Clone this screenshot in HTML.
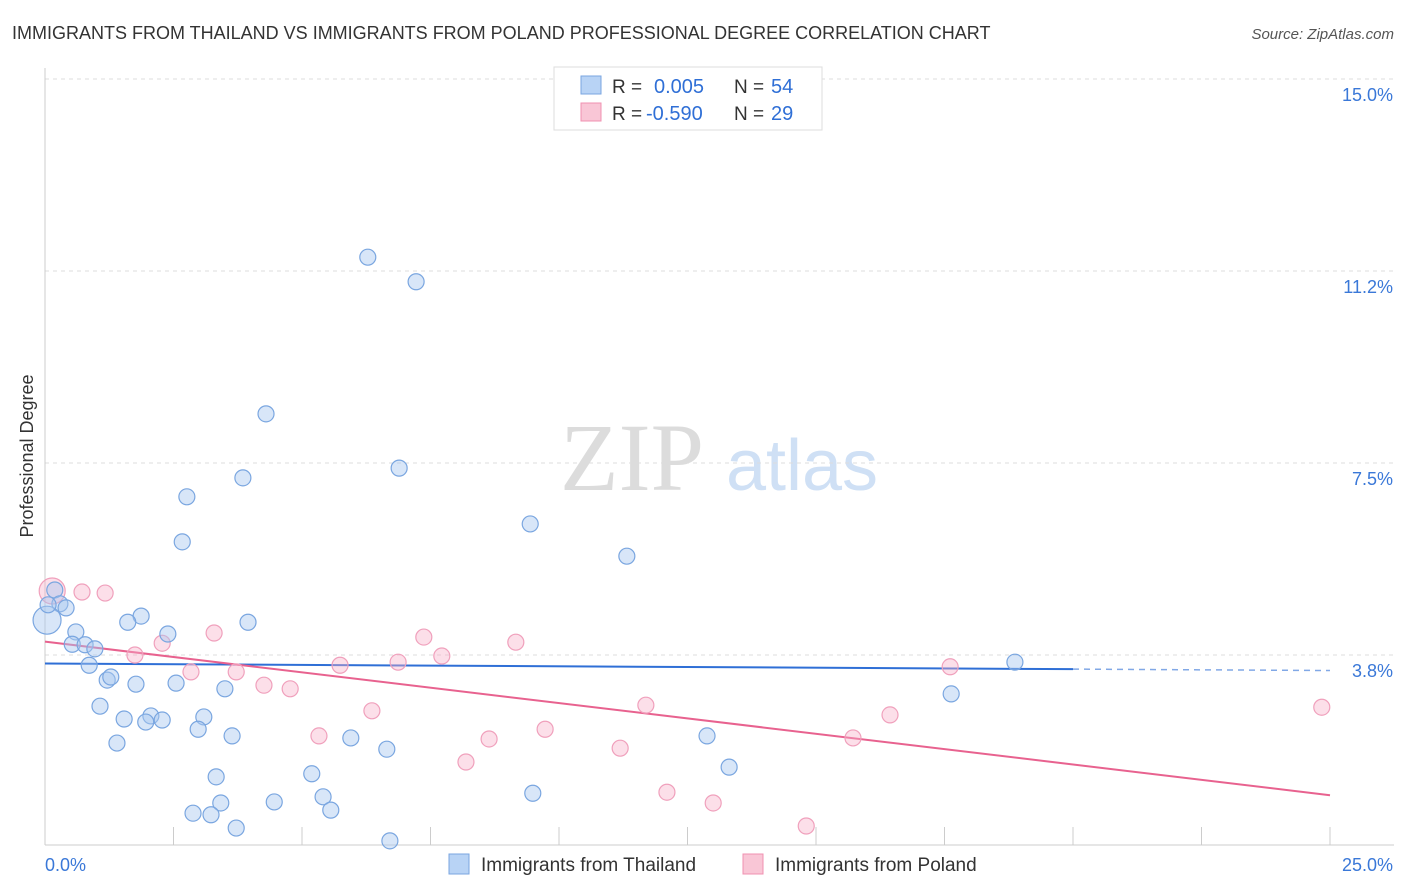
<!DOCTYPE html>
<html><head><meta charset="utf-8"><style>
body{margin:0;background:#fff;font-family:"Liberation Sans",sans-serif}
svg{display:block}
</style></head><body>
<svg id="chart" width="1406" height="892" xmlns="http://www.w3.org/2000/svg">
<text x="12" y="39" font-size="18" fill="#333">IMMIGRANTS FROM THAILAND VS IMMIGRANTS FROM POLAND PROFESSIONAL DEGREE CORRELATION CHART</text>
<text x="1394" y="39" font-size="15" fill="#555" font-style="italic" text-anchor="end">Source: ZipAtlas.com</text>
<text x="33" y="456" font-size="18" fill="#333" text-anchor="middle" transform="rotate(-90 33 456)">Professional Degree</text>
<g><text x="632" y="490" font-size="96" font-family="Liberation Serif,serif" fill="#dcdcdc" text-anchor="middle">ZIP</text><text x="802" y="490" font-size="72" fill="#cfe0f5" text-anchor="middle">atlas</text></g>
<g id="grid"></g><g id="axes"></g><g id="lines"></g><g id="pts"></g>
<g>
<rect x="554" y="67" width="268" height="63" fill="#fff" stroke="#ddd"/>
<rect x="581" y="76" width="20" height="18" fill="#b8d3f5" stroke="#7aa6e0"/>
<rect x="581" y="103" width="20" height="18" fill="#f9c6d6" stroke="#f090b0"/>
<text x="612" y="93" font-size="19" fill="#333">R = </text><text x="654" y="93" font-size="20" fill="#2f6fd6">0.005</text>
<text x="734" y="93" font-size="19" fill="#333">N = </text><text x="771" y="93" font-size="20" fill="#2f6fd6">54</text>
<text x="612" y="120" font-size="19" fill="#333">R = </text><text x="646" y="120" font-size="20" fill="#2f6fd6">-0.590</text>
<text x="734" y="120" font-size="19" fill="#333">N = </text><text x="771" y="120" font-size="20" fill="#2f6fd6">29</text>
</g>
<g>
<rect x="449" y="854" width="20" height="20" fill="#b8d3f5" stroke="#7aa6e0"/>
<text x="481" y="871" font-size="19" fill="#333">Immigrants from Thailand</text>
<rect x="743" y="854" width="20" height="20" fill="#f9c6d6" stroke="#f090b0"/>
<text x="775" y="871" font-size="19" fill="#333">Immigrants from Poland</text>
</g>
</svg>
<script>
const thaiX=[6.28,7.22,4.30,3.85,6.89,2.76,2.67,9.44,11.32,0.19,0.29,0.41,1.87,1.61,3.95,2.39,0.60,0.53,0.78,0.97,0.86,1.21,1.28,1.77,2.55,3.50,18.87,17.63,1.07,1.54,2.06,1.96,2.28,3.09,2.98,3.64,1.40,5.95,6.65,12.88,13.31,3.33,5.19,5.41,9.49,4.46,3.42,2.88,3.23,5.56,3.72,6.71,0.04,0.06];
const thaiY=[11.52,11.04,8.46,7.21,7.40,6.84,5.96,6.31,5.68,5.02,4.75,4.67,4.51,4.39,4.39,4.16,4.20,3.96,3.95,3.87,3.55,3.26,3.32,3.18,3.20,3.09,3.61,2.99,2.75,2.50,2.56,2.44,2.48,2.54,2.30,2.17,2.03,2.13,1.91,2.17,1.56,1.37,1.43,0.98,1.05,0.88,0.86,0.66,0.63,0.72,0.37,0.12,4.43,4.73];
const polX=[0.14,0.72,1.17,3.29,2.28,1.75,2.84,3.72,4.26,4.77,5.74,6.87,7.37,7.72,9.16,6.36,5.33,8.64,9.73,8.19,11.19,11.69,12.10,13.00,14.81,15.72,16.44,17.61,24.84];
const polY=[5.00,4.98,4.96,4.18,3.98,3.75,3.42,3.42,3.16,3.09,3.55,3.61,4.10,3.73,4.00,2.66,2.17,2.11,2.30,1.66,1.93,2.77,1.07,0.86,0.41,2.13,2.58,3.52,2.73];
const xTicks=[0,2.5,5,7.5,10,12.5,15,17.5,20,22.5,25];
const yTicks=[3.75,7.5,11.25,15];
const yTickLabels=["3.8%","7.5%","11.2%","15.0%"];
const xTickLabels=["0.0%","25.0%"];
const NS="http://www.w3.org/2000/svg";
const sx=v=>45+v*51.4, sy=v=>847-v*51.2;
function mk(t,a,p){const e=document.createElementNS(NS,t);for(const k in a)e.setAttribute(k,a[k]);p.appendChild(e);return e;}
const grid=document.getElementById('grid'),axes=document.getElementById('axes'),lines=document.getElementById('lines'),pts=document.getElementById('pts');
yTicks.forEach((v,i)=>{
 const l=mk('line',{x1:45,x2:1394,y1:sy(v),y2:sy(v),stroke:'#ddd','stroke-dasharray':'4 4'},grid);
 
 
 const t=mk('text',{x:1393,y:sy(v)+22,'font-size':18,fill:'#3a78d8','text-anchor':'end'},axes);
 t.textContent=yTickLabels[i];
 
 
});
const ax=mk('line',{x1:45,x2:1394,y1:845,y2:845,stroke:'#ccc'},axes);


const ay=mk('line',{x1:45,x2:45,y1:68,y2:845,stroke:'#ccc'},axes);


xTicks.forEach(v=>{
 const l=mk('line',{x1:sx(v),x2:sx(v),y1:827,y2:845,stroke:'#ccc'},axes);
 
 
});
[[0,'start',xTickLabels[0]],[25,'end',xTickLabels[1]]].forEach(([v,a,s])=>{
 const t=mk('text',{x:v==0?45:1393,y:871,'font-size':18,fill:'#3a78d8','text-anchor':a},axes);
 t.textContent=s;
 
 
});
function fit(X,Y){const n=X.length;let mx=0,my=0;for(let i=0;i<n;i++){mx+=X[i];my+=Y[i];}mx/=n;my/=n;let a=0,b=0;for(let i=0;i<n;i++){a+=(X[i]-mx)*(Y[i]-my);b+=(X[i]-mx)**2;}const s=a/b;return x=>my+s*(x-mx);}
const fb=fit(thaiX,thaiY), fp=fit(polX,polY);
const tl=mk('line',{x1:sx(0),y1:sy(fb(0)),x2:sx(20),y2:sy(fb(20)),stroke:'#2f6fd6','stroke-width':2},lines);


const td=mk('line',{x1:sx(20),y1:sy(fb(20)),x2:sx(25),y2:sy(fb(25)),stroke:'#2f6fd6','stroke-width':1.5,'stroke-dasharray':'6 5',opacity:0.6},lines);


const pl=mk('line',{x1:sx(0),y1:sy(fp(0)),x2:sx(25),y2:sy(fp(25)),stroke:'#e8628f','stroke-width':2},lines);


polX.forEach((x,i)=>{
 const c=mk('circle',{cx:sx(x),cy:sy(polY[i]),r:i==0?13:8,fill:'rgba(247,176,200,0.4)',stroke:'#f0a0bc','stroke-width':1.2},pts);
 
 
});
thaiX.forEach((x,i)=>{
 const c=mk('circle',{cx:sx(x),cy:sy(thaiY[i]),r:i==52?14:8,fill:'rgba(168,200,240,0.45)',stroke:'#7aa6e0','stroke-width':1.2},pts);
 
 
});
</script>
</body></html>
